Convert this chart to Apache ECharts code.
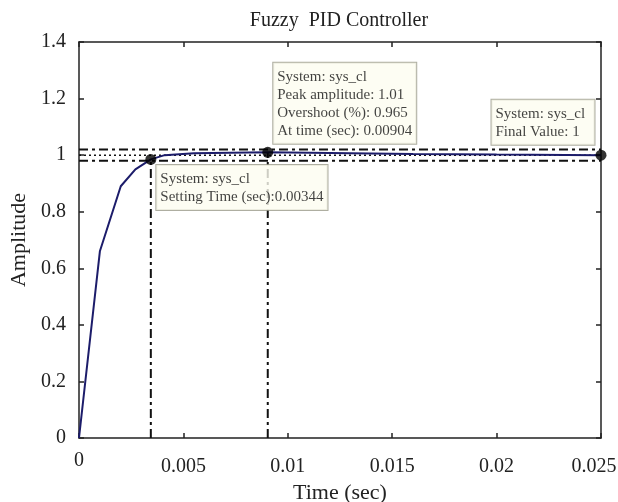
<!DOCTYPE html>
<html>
<head>
<meta charset="utf-8">
<script src="https://cdn.jsdelivr.net/npm/echarts@6/dist/echarts.min.js"></script>
<style>
html,body{margin:0;padding:0;background:#fff;}
#chart{width:618px;height:502px;}
</style>
</head>
<body>
<div id="chart"></div>
<script>
// ---- data ----
const time = [0, 0.001, 0.002, 0.0027, 0.00344, 0.0041, 0.0055, 0.00904, 0.012, 0.016, 0.02, 0.025];
const amplitude = [0, 0.66, 0.89, 0.95, 0.985, 1.0, 1.007, 1.01, 1.008, 1.004, 1.002, 1.0];
const xTicks = ['0', '0.005', '0.01', '0.015', '0.02', '0.025'];
const yTicks = ['0', '0.2', '0.4', '0.6', '0.8', '1', '1.2', '1.4'];
const settleTime = 0.00344;
const settleAmp = 0.985;
const peakTime = 0.00904;
const peakAmp = 1.01;
const overshoot = 0.965;
const finalTime = 0.025;
const finalValue = 1;
const bandUpper = 1.02;
const bandLower = 0.98;
const systemName = 'sys_cl';

const FONT = '"Liberation Serif", "DejaVu Serif", serif';
const curve = time.map((t, i) => [t, amplitude[i]]);

const boxStyle = {
  backgroundColor: '#fdfdf0',
  borderColor: '#9a9a8a',
  borderWidth: 1,
  padding: [5, 4, 4, 4],
  fontFamily: FONT,
  fontSize: 15,
  lineHeight: 18,
  color: '#111'
};

const chart = echarts.init(document.getElementById('chart'));
chart.setOption({
  animation: false,
  backgroundColor: '#fff',
  title: {
    text: 'Fuzzy  PID Controller',
    left: 334, top: 6, textAlign: 'center',
    textStyle: {fontFamily: FONT, fontSize: 20, fontWeight: 'normal', color: '#222'}
  },
  grid: {left: 79, right: 17, top: 42, bottom: 64, outerBoundsMode: 'none', containLabel: false},
  xAxis: [{
    type: 'value', min: 0, max: 0.025, interval: 0.005,
    name: 'Time (sec)', nameLocation: 'middle', nameGap: 40,
    nameTextStyle: {fontFamily: FONT, fontSize: 22, color: '#222'},
    axisLine: {onZero: false, lineStyle: {color: '#222', width: 1.5}},
    axisTick: {inside: true, length: 5, lineStyle: {color: '#222', width: 1.5}},
    axisLabel: {fontFamily: FONT, fontSize: 20, color: '#222', margin: 13,
      formatter: (v) => {
        const i = Math.round(v / 0.005);
        if (i === 0) return '{z|' + xTicks[i] + '}';
        if (i === xTicks.length - 1) return '{e|' + xTicks[i] + '}';
        return '{n|' + xTicks[i] + '}';
      },
      rich: {
        z: {fontFamily: FONT, fontSize: 20, color: '#222'},
        n: {fontFamily: FONT, fontSize: 20, color: '#222', padding: [6, 0, 0, 0]},
        e: {fontFamily: FONT, fontSize: 20, color: '#222', padding: [6, 14, 0, 0]}
      }},
    splitLine: {show: false}
  }, {
    type: 'value', min: 0, max: 0.025, interval: 0.005, position: 'top',
    axisLine: {onZero: false, lineStyle: {color: '#222', width: 1.5}},
    axisTick: {inside: true, length: 5, lineStyle: {color: '#222', width: 1.5}},
    axisLabel: {show: false}, splitLine: {show: false}
  }],
  yAxis: [{
    type: 'value', min: 0, max: 1.4, interval: 0.2,
    name: 'Amplitude', nameLocation: 'middle', nameGap: 45, nameRotate: 90,
    nameTextStyle: {fontFamily: FONT, fontSize: 22, color: '#222'},
    axisLine: {onZero: false, lineStyle: {color: '#222', width: 1.5}},
    axisTick: {inside: true, length: 5, lineStyle: {color: '#222', width: 1.5}},
    axisLabel: {fontFamily: FONT, fontSize: 20, color: '#222', margin: 13,
      formatter: (v) => yTicks[Math.round(v / 0.2)]},
    splitLine: {show: false}
  }, {
    type: 'value', min: 0, max: 1.4, interval: 0.2, position: 'right',
    axisLine: {onZero: false, lineStyle: {color: '#222', width: 1.5}},
    axisTick: {inside: true, length: 5, lineStyle: {color: '#222', width: 1.5}},
    axisLabel: {show: false}, splitLine: {show: false}
  }],
  series: [
    {type: 'line', data: [[0, bandUpper], [finalTime, bandUpper]], symbol: 'none', silent: true,
      lineStyle: {color: '#111', width: 2, type: [9, 4, 3, 4]}},
    {type: 'line', data: [[0, bandLower], [finalTime, bandLower]], symbol: 'none', silent: true,
      lineStyle: {color: '#111', width: 2, type: [9, 4, 3, 4]}},
    {type: 'line', data: [[0, finalValue], [finalTime, finalValue]], symbol: 'none', silent: true,
      lineStyle: {color: '#111', width: 1.5, type: [2, 3]}},
    {type: 'line', data: [[settleTime, 0], [settleTime, settleAmp]], symbol: 'none', silent: true,
      lineStyle: {color: '#111', width: 2, type: [9, 4, 3, 4]}},
    {type: 'line', data: [[peakTime, 0], [peakTime, peakAmp]], symbol: 'none', silent: true,
      lineStyle: {color: '#111', width: 2, type: [9, 4, 3, 4]}},
    {type: 'line', data: curve, symbol: 'none', smooth: false,
      lineStyle: {color: '#1c1c6a', width: 2}},
    {type: 'scatter', z: 10, symbol: 'circle', symbolSize: 11, itemStyle: {color: '#000'},
      data: [
        {value: [settleTime, settleAmp], label: Object.assign({show: true, position: [11, 11], align: 'left', verticalAlign: 'top',
          formatter: 'System: ' + systemName + '\nSetting Time (sec):' + settleTime}, boxStyle)},
        {value: [peakTime, peakAmp], label: Object.assign({show: true, position: [11, -3], align: 'left', verticalAlign: 'bottom',
          formatter: 'System: ' + systemName + '\nPeak amplitude: ' + peakAmp + '\nOvershoot (%): ' + overshoot + '\nAt time (sec): ' + peakTime}, boxStyle)},
        {value: [finalTime, finalValue], label: Object.assign({show: true, position: [-104, -5], align: 'left', verticalAlign: 'bottom', width: 95,
          formatter: 'System: ' + systemName + '\nFinal Value: ' + finalValue}, boxStyle)}
      ]}
  ]
});
</script>
</body>
</html>
